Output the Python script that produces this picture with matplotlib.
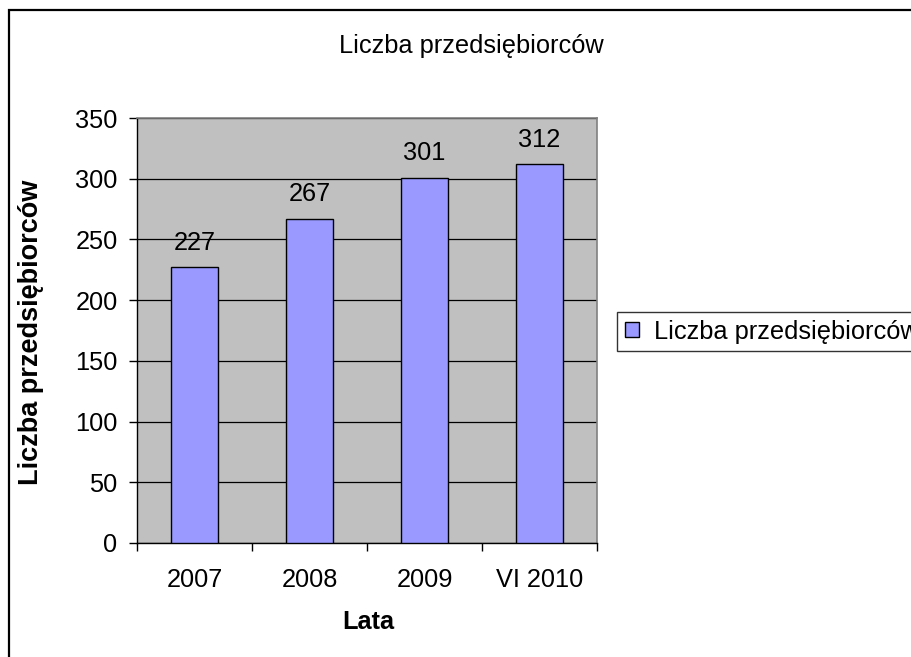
import matplotlib
matplotlib.use("Agg")
import matplotlib.pyplot as plt
from matplotlib.patches import Rectangle, Patch

categories = ["2007", "2008", "2009", "VI 2010"]
values = [227, 267, 301, 312]
yticks = [0, 50, 100, 150, 200, 250, 300, 350]
title = "Liczba przedsiębiorców"
ylabel = "Liczba przedsiębiorców"
xlabel = "Lata"
series_name = "Liczba przedsiębiorców"

plt.rcParams['font.family'] = ['Liberation Sans', 'DejaVu Sans']
FS = 18.3

W, H = 911, 657
fig = plt.figure(figsize=(W / 100, H / 100), dpi=100)
fig.patch.set_facecolor("white")

# axes position in pixels
l, r, t, b = 137, 597, 118, 543
ax = fig.add_axes([l / W, 1 - b / H, (r - l) / W, (b - t) / H])
ax.set_facecolor("#C0C0C0")

x = list(range(len(categories)))
ax.bar(x, values, width=0.41, color="#9999FF", edgecolor="black", linewidth=1.0, zorder=3)

for xi, v in zip(x, values):
    ax.annotate(str(v), (xi, v), xytext=(0, 9), textcoords="offset points",
                ha="center", va="bottom", fontsize=FS, color="black", zorder=4)

ax.set_xlim(-0.5, len(categories) - 0.5)
ax.set_ylim(0, 350)
ax.set_yticks(yticks)
ax.set_yticklabels([str(v) for v in yticks], fontsize=FS)
ax.yaxis.grid(True, color="black", linewidth=0.9, zorder=1)
ax.set_axisbelow(True)

ax.set_xticks(x)
ax.set_xticklabels(categories, fontsize=FS)
ax.set_xticks([i - 0.5 for i in range(len(categories) + 1)], minor=True)
ax.tick_params(axis="x", which="major", length=0, pad=18)
ax.tick_params(axis="x", which="minor", length=6, width=1, color="black", direction="out")
ax.tick_params(axis="y", which="major", length=6, width=1, color="black", direction="out", pad=8)

for side in ["top", "right"]:
    ax.spines[side].set_color("#808080")
    ax.spines[side].set_linewidth(1.2)
for side in ["left", "bottom"]:
    ax.spines[side].set_color("black")
    ax.spines[side].set_linewidth(1.0)

fig.text(368 / W, 1 - 622 / H, xlabel, ha="center", va="center", fontsize=FS, fontweight="bold")
fig.text(31 / W, 1 - 332 / H, ylabel, ha="center", va="center", rotation=90,
         fontsize=19.5, fontweight="bold")
fig.text(471 / W, 1 - 46 / H, title, ha="center", va="center", fontsize=FS)

# legend
handle = Patch(facecolor="#9999FF", edgecolor="black", linewidth=1.0)
leg = fig.legend([handle], [series_name], loc="upper left",
                 bbox_to_anchor=(617 / W, 1 - 312 / H), fontsize=FS,
                 frameon=True, fancybox=False, edgecolor="black",
                 handlelength=0.55, handleheight=0.55, handletextpad=0.6,
                 borderpad=0.3, borderaxespad=0.0)
leg.get_frame().set_linewidth(1.0)

# outer chart border (extends past right and bottom edges)
fig.patches.append(Rectangle((8.5 / W, -0.1), 1.2, 1 - 9.5 / H + 0.1,
                             transform=fig.transFigure, fill=False,
                             edgecolor="black", linewidth=1.6, zorder=10))

fig.savefig("out.png", dpi=100)
